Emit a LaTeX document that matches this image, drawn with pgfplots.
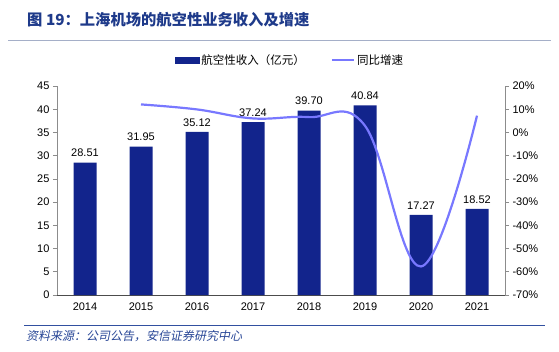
\documentclass[border=0pt]{standalone}
\usepackage{fontspec}
\setmainfont{Liberation Sans}
\newfontfamily\cjk{Noto Sans CJK SC}
\newfontfamily\cjkit[FakeSlant=0.2]{Noto Sans CJK SC}
\usepackage{pgfplots}
\pgfplotsset{compat=1.18}
\definecolor{navy}{RGB}{18,36,140}
\definecolor{lineblue}{RGB}{120,120,255}
\definecolor{titleblue}{RGB}{30,58,138}
\definecolor{rulecol}{RGB}{165,175,200}
\definecolor{rulecolb}{RGB}{50,80,160}
\definecolor{srcblue}{RGB}{40,70,150}
\begin{document}
\begin{tikzpicture}
\path (0pt,0pt) rectangle (559pt,351pt);
\node[anchor=west, inner sep=0pt, font=\cjk\bfseries\fontsize{15.3}{17}\selectfont, text=titleblue] at (27pt,331pt) {图 19：上海机场的航空性业务收入及增速};
\draw[rulecol, line width=0.9pt] (8pt,311pt) -- (551pt,311pt);
\draw[rulecolb, line width=0.8pt] (24pt,26pt) -- (545pt,26pt);
\node[anchor=west, inner sep=0pt, font=\cjkit\fontsize{12}{13}\selectfont, text=srcblue] at (26pt,15pt) {资料来源：公司公告，安信证券研究中心};
\begin{axis}[
  at={(57pt,56pt)}, anchor=south west, scale only axis,
  width=448pt, height=209pt,
  xmin=-0.5, xmax=7.5, ymin=0, ymax=45,
  ytick={0,5,...,45},
  xtick={0,...,7}, xticklabels={2014,2015,2016,2017,2018,2019,2020,2021},
  axis y line*=left, axis x line*=bottom,
  x axis line style={draw=black!70, line width=0.9pt, -},
  y axis line style={draw=black!45, line width=0.6pt, -},
  tick align=outside, major tick length=4pt,
  x tick style={draw=none},
  y tick style={draw=black!45, line width=0.6pt},
  ticklabel style={font=\fontsize{11}{13}\selectfont},
  /pgf/number format/assume math mode=true,
  clip=false,
]
\addplot[ybar, bar width=23pt, fill=navy, draw=none,
  nodes near coords,
  every node near coord/.append style={font=\fontsize{11}{13}\selectfont, black, /pgf/number format/fixed, /pgf/number format/fixed zerofill, /pgf/number format/precision=2, /pgf/number format/assume math mode=true, yshift=2pt}]
coordinates {(0,28.51)(1,31.95)(2,35.12)(3,37.24)(4,39.70)(5,40.84)(6,17.27)(7,18.52)};
\end{axis}
\begin{axis}[
  at={(57pt,56pt)}, anchor=south west, scale only axis,
  width=448pt, height=209pt,
  xmin=-0.5, xmax=7.5, ymin=-70, ymax=20,
  ytick={-70,-60,...,20},
  yticklabel={\pgfmathprintnumber{\tick}\%},
  axis y line*=right, axis x line=none,
  y axis line style={draw=black!45, line width=0.6pt, -},
  tick align=outside, major tick length=4pt,
  y tick style={draw=black!45, line width=0.6pt},
  ticklabel style={font=\fontsize{11}{13}\selectfont},
  /pgf/number format/assume math mode=true,
  legend columns=2,
  legend style={at={(0.52,1.124)}, anchor=center, draw=none, fill=none,
    font=\cjk\fontsize{11.5}{13}\selectfont,
    /tikz/every even column/.append style={column sep=24pt}},
  clip=false,
]
\addlegendimage{legend image code/.code={\fill[navy] (0pt,-3pt) rectangle (24pt,3pt);}}
\addlegendentry{航空性收入（亿元）}
\addplot[lineblue, line width=2.2pt, smooth, tension=0.65, mark=none,
  legend image code/.code={\draw[lineblue, line width=2.2pt] (0pt,0pt) -- (22pt,0pt);}]
coordinates {(1,12.07)(2,9.92)(3,6.04)(4,6.61)(5,2.87)(6,-57.71)(7,7.24)};
\addlegendentry{同比增速}
\end{axis}
\end{tikzpicture}
\end{document}
